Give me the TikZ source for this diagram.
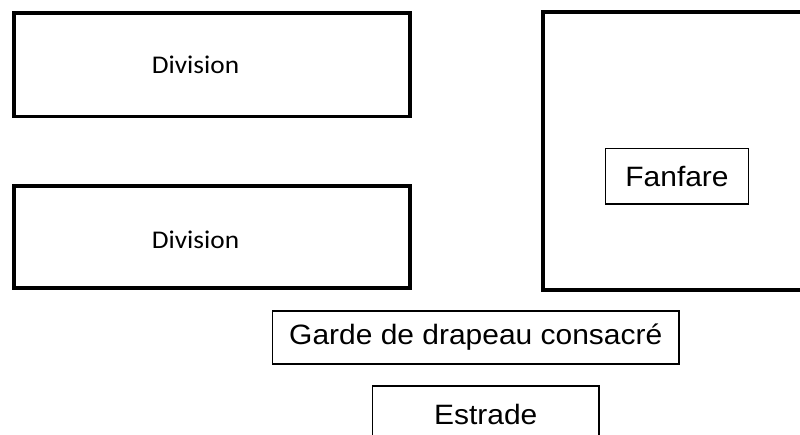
\documentclass[tikz,border=0pt]{standalone}
\usepackage{fontspec}
\setmainfont[FakeStretch=1.07]{Liberation Sans}
\newfontfamily\calfont[FakeStretch=1.07]{Carlito}
\begin{document}
\begin{tikzpicture}[x=1pt,y=-1pt,
  thickbox/.style={draw=black,line width=3.2pt,inner sep=0pt},
  thinbox/.style={draw=black,line width=1.4pt,inner sep=0pt},
  divtext/.style={font=\calfont\fontsize{25.5}{30}\selectfont,inner sep=0pt},
  armtext/.style={font=\fontsize{28}{32}\selectfont,inner sep=0pt}]
\useasboundingbox (0,0) rectangle (800,434);
\clip (0,0) rectangle (800,434);
% Division boxes
\node[thickbox,minimum width=396pt,minimum height=103.5pt] (div1) at (212,64.75) {};
\node[divtext] (div1t) at (195.5,65) {Division};
\node[thickbox,minimum width=396pt,minimum height=102pt] (div2) at (212,237) {};
\node[divtext] (div2t) at (195.5,239.5) {Division};
% Fanfare area (open to the right)
\coordinate (fanTR) at (830,12);
\coordinate (fanBR) at (830,290);
\draw[line width=3.2pt] (fanTR) -- (543,12) -- (543,290) -- (fanBR);
\node[thinbox,minimum width=143.5pt,minimum height=55.5pt,armtext] (fanfare) at (677,176.25) {Fanfare};
% Garde
\node[thinbox,minimum width=406.5pt,minimum height=53pt,armtext] (garde) at (475.75,337.5) {Garde de drapeau consacr\'e};
% Estrade
\node[thinbox,minimum width=226.5pt,minimum height=56pt,armtext] (estrade) at (485.75,414) {Estrade};
\end{tikzpicture}
\end{document}
